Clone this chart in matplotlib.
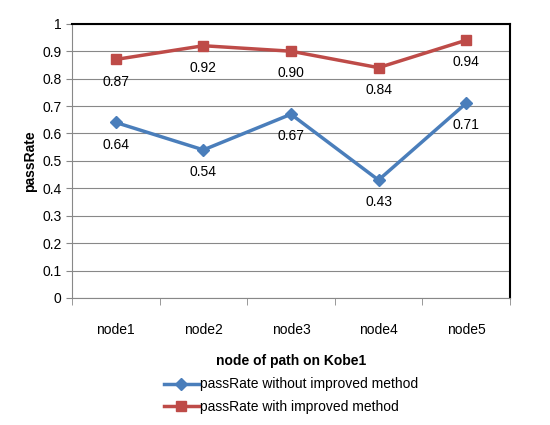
import matplotlib.pyplot as plt
import numpy as np

nodes = ["node1", "node2", "node3", "node4", "node5"]
without_improved = [0.64, 0.54, 0.67, 0.43, 0.71]
with_improved = [0.87, 0.92, 0.90, 0.84, 0.94]

plt.rcParams['font.family'] = ['Liberation Sans', 'DejaVu Sans']

fig = plt.figure(figsize=(5.5, 4.25), dpi=100)
ax = fig.add_axes([0.131, 0.299, 0.796, 0.645])

x = np.arange(len(nodes))
ax.plot(x, without_improved, color='#4a7ebb', marker='D', markersize=6, linewidth=2.5,
        label='passRate without improved method')
ax.plot(x, with_improved, color='#be4b48', marker='s', markersize=7, linewidth=2.5,
        label='passRate with improved method')

for xi, v in zip(x, without_improved):
    ax.text(xi, v - 0.055, f"{v:.2f}", ha='center', va='top', fontsize=10)
for xi, v in zip(x, with_improved):
    ax.text(xi, v - 0.055, f"{v:.2f}", ha='center', va='top', fontsize=10)

ax.set_xlim(-0.5, 4.5)
ax.set_ylim(0, 1)
ax.set_yticks(np.arange(0, 1.01, 0.1))
ax.set_yticklabels(["0"] + [f"{t:.1f}" for t in np.arange(0.1, 0.95, 0.1)] + ["1"])
ax.set_xticks(x)
ax.set_xticklabels(nodes)
ax.set_xticks(np.arange(-0.5, 4.6, 1), minor=True)
ax.tick_params(axis='x', which='major', length=0, pad=18)
ax.tick_params(axis='x', which='minor', length=5, color='#888888')
ax.tick_params(axis='y', length=4, color='#888888')
ax.tick_params(labelsize=10)
ax.grid(axis='y', color='#888888', linewidth=0.8)
ax.set_axisbelow(True)
for s in ['top', 'right']:
    ax.spines[s].set_color('black')
    ax.spines[s].set_linewidth(1.5)
for s in ['left', 'bottom']:
    ax.spines[s].set_color('#888888')

ax.set_ylabel('passRate', fontsize=10, fontweight='bold')
ax.set_xlabel('node of path on Kobe1', fontsize=10, fontweight='bold', labelpad=12)
ax.legend(loc='upper center', bbox_to_anchor=(0.5, -0.27), frameon=False, fontsize=10,
          handlelength=2.5, handletextpad=0.1, labelspacing=0.6, borderaxespad=0)

fig.savefig('out.png', dpi=100)
